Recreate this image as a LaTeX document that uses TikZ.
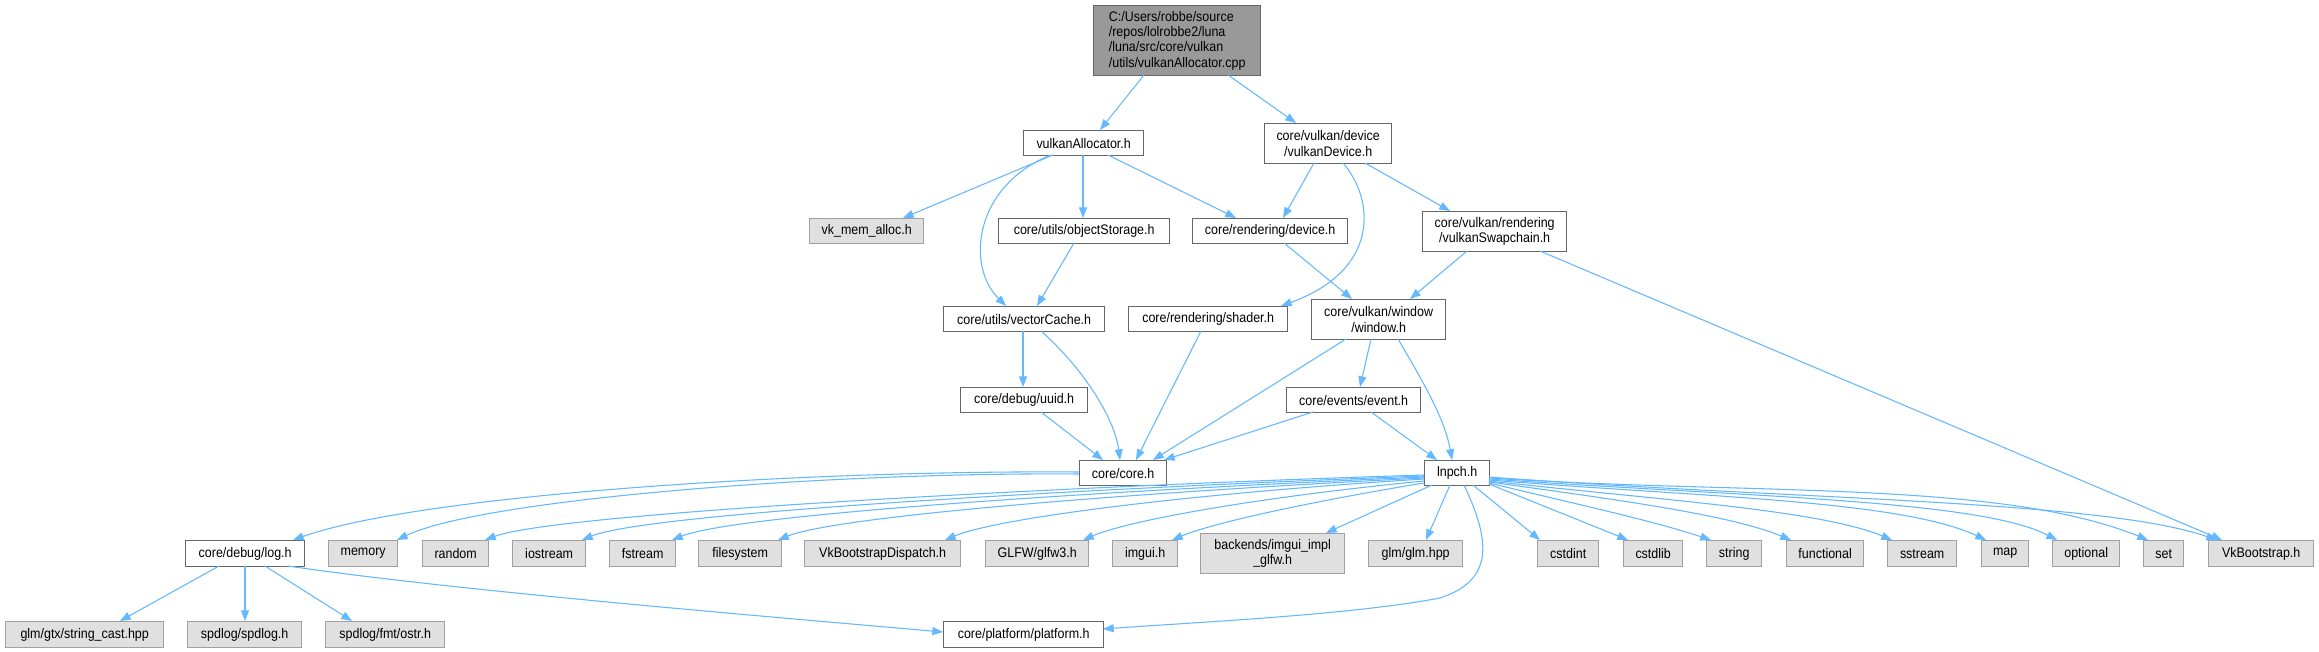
\documentclass[tikz,border=0pt]{standalone}
\usepackage{fontspec}
\setmainfont{Liberation Sans}[FakeStretch=0.9]
\usetikzlibrary{arrows.meta,calc}
\definecolor{edgec}{HTML}{63B8FF}
\definecolor{localb}{HTML}{666666}
\definecolor{extb}{HTML}{A0A0A0}
\definecolor{extf}{HTML}{E0E0E0}
\definecolor{rootf}{HTML}{999999}
\begin{document}
\begin{tikzpicture}[x=0.75pt,y=-0.75pt,
  every node/.style={font=\fontsize{10.4}{11.5}\selectfont, inner sep=0pt, anchor=north west, align=center},
  wh/.style 2 args={minimum width={#1*0.75pt},minimum height={#2*0.75pt}},
  local/.style={draw=localb, fill=white, line width=1pt},
  ext/.style={draw=extb, fill=extf, line width=1pt},
  rootn/.style={draw=localb, fill=rootf, line width=1pt, align=left},
  dep/.style={draw=edgec, line width=0.8pt, -{Triangle[length=8pt,width=6pt]}}]
\useasboundingbox (0,0) rectangle (2319,652);
\fill[white] (0,0) rectangle (2319,652);
% nodes
\node[rootn, wh={167}{70}] (root) at (1093,5) {C:/Users/robbe/source\\/repos/lolrobbe2/luna\\/luna/src/core/vulkan\\/utils/vulkanAllocator.cpp};
\node[local, wh={120}{25}] (va) at (1023,130) {vulkanAllocator.h};
\node[local, wh={127}{40}] (vd) at (1264,123) {core/vulkan/device\\/vulkanDevice.h};
\node[ext, wh={114}{25}] (vma) at (809,218) {vk\_mem\_alloc.h};
\node[local, wh={171}{25}] (os) at (998,218) {core/utils/objectStorage.h};
\node[local, wh={155}{25}] (rd) at (1192,218) {core/rendering/device.h};
\node[local, wh={144}{40}] (sc) at (1422,211) {core/vulkan/rendering\\/vulkanSwapchain.h};
\node[local, wh={161}{25}] (vc) at (943,306) {core/utils/vectorCache.h};
\node[local, wh={159}{25}] (sh) at (1128,306) {core/rendering/shader.h};
\node[local, wh={134}{40}] (win) at (1311,299) {core/vulkan/window\\/window.h};
\node[local, wh={127}{25}] (uuid) at (960,387) {core/debug/uuid.h};
\node[local, wh={134}{25}] (ev) at (1286,387) {core/events/event.h};
\node[local, wh={87}{25}] (core) at (1079,460) {core/core.h};
\node[local, wh={65}{25}] (lnpch) at (1424,460) {lnpch.h};
\node[local, wh={119}{26}] (log) at (185,540) {core/debug/log.h};
\node[ext, wh={69}{26}] (memory) at (328,540) {memory};
\node[ext, wh={66}{26}] (random) at (422,540) {random};
\node[ext, wh={73}{26}] (iostream) at (512,540) {iostream};
\node[ext, wh={66}{26}] (fstream) at (609,540) {fstream};
\node[ext, wh={83}{26}] (filesystem) at (698,540) {filesystem};
\node[ext, wh={156}{26}] (vbd) at (804,540) {VkBootstrapDispatch.h};
\node[ext, wh={103}{26}] (glfw) at (985,540) {GLFW/glfw3.h};
\node[ext, wh={65}{26}] (imgui) at (1112,540) {imgui.h};
\node[ext, wh={144}{40}] (backends) at (1200,533) {backends/imgui\_impl\\\_glfw.h};
\node[ext, wh={94}{26}] (glm) at (1368,540) {glm/glm.hpp};
\node[ext, wh={61}{26}] (cstdint) at (1537,540) {cstdint};
\node[ext, wh={59}{26}] (cstdlib) at (1623,540) {cstdlib};
\node[ext, wh={55}{26}] (string) at (1706,540) {string};
\node[ext, wh={77}{26}] (functional) at (1786,540) {functional};
\node[ext, wh={69}{26}] (sstream) at (1887,540) {sstream};
\node[ext, wh={47}{26}] (map) at (1981,540) {map};
\node[ext, wh={67}{26}] (optional) at (2052,540) {optional};
\node[ext, wh={40}{26}] (set) at (2143,540) {set};
\node[ext, wh={105}{26}] (vkb) at (2208,540) {VkBootstrap.h};
\node[ext, wh={158}{26}] (strcast) at (5,621) {glm/gtx/string\_cast.hpp};
\node[ext, wh={114}{26}] (spdlog) at (187,621) {spdlog/spdlog.h};
\node[ext, wh={119}{26}] (ostr) at (325,621) {spdlog/fmt/ostr.h};
\node[local, wh={160}{26}] (platform) at (943,621) {core/platform/platform.h};
% edges
\draw[dep] ($(root.north west)+(51,70)$) -- ($(va.north west)+(77,0)$);
\draw[dep] ($(root.north west)+(135,70)$) -- ($(vd.north west)+(32,0)$);
\draw[dep] ($(va.north west)+(30,25)$) -- ($(vma.north west)+(94,0)$);
\draw[dep] ($(va.north west)+(28,25)$) .. controls (975,185) and (965,265) .. ($(vc.north west)+(63,0)$);
\draw[dep] ($(va.north west)+(60,25)$) -- ($(os.north west)+(85,0)$);
\draw[dep] ($(va.north west)+(85,25)$) -- ($(rd.north west)+(44,0)$);
\draw[dep] ($(vd.north west)+(50,40)$) -- ($(rd.north west)+(91,0)$);
\draw[dep] ($(vd.north west)+(79,40)$) .. controls (1375,200) and (1380,270) .. ($(sh.north west)+(153,0)$);
\draw[dep] ($(vd.north west)+(101,40)$) -- ($(sc.north west)+(28,0)$);
\draw[dep] ($(os.north west)+(76,25)$) -- ($(vc.north west)+(94,0)$);
\draw[dep] ($(rd.north west)+(92,25)$) -- ($(win.north west)+(41,0)$);
\draw[dep] ($(sc.north west)+(45,40)$) -- ($(win.north west)+(99,0)$);
\draw[dep] ($(sc.north west)+(118,40)$) -- ($(vkb.north west)+(14,0)$);
\draw[dep] ($(vc.north west)+(80,25)$) -- ($(uuid.north west)+(63,0)$);
\draw[dep] ($(vc.north west)+(98,25)$) .. controls (1085,370) and (1115,420) .. ($(core.north west)+(41,0)$);
\draw[dep] ($(sh.north west)+(73,25)$) -- ($(core.north west)+(57,0)$);
\draw[dep] ($(win.north west)+(35,40)$) -- ($(core.north west)+(74,0)$);
\draw[dep] ($(win.north west)+(60,40)$) -- ($(ev.north west)+(74,0)$);
\draw[dep] ($(win.north west)+(87,40)$) .. controls (1425,385) and (1445,420) .. ($(lnpch.north west)+(28,0)$);
\draw[dep] ($(uuid.north west)+(81,25)$) -- ($(core.north west)+(24,0)$);
\draw[dep] ($(ev.north west)+(27,25)$) -- ($(core.north west)+(85,0)$);
\draw[dep] ($(ev.north west)+(85,25)$) -- ($(lnpch.north west)+(13,0)$);
\draw[dep] ($(core.north west)+(0,12)$) .. controls (800,470) and (420,495) .. ($(log.north west)+(108,0)$);
\draw[dep] ($(core.north west)+(0,14)$) .. controls (820,472) and (480,500) .. ($(memory.north west)+(69,0)$);
% lnpch, to the left
\draw[dep] ($(lnpch.north west)+(0,15)$) .. controls (1100,485) and (560,512) .. ($(random.north west)+(63,0)$);
\draw[dep] ($(lnpch.north west)+(0,16)$) .. controls (1120,487) and (650,512) .. ($(iostream.north west)+(70,0)$);
\draw[dep] ($(lnpch.north west)+(0,17)$) .. controls (1140,489) and (740,513) .. ($(fstream.north west)+(63,0)$);
\draw[dep] ($(lnpch.north west)+(0,18)$) .. controls (1160,491) and (840,515) .. ($(filesystem.north west)+(80,0)$);
\draw[dep] ($(lnpch.north west)+(0,19)$) .. controls (1200,493) and (1000,517) .. ($(vbd.north west)+(141,0)$);
\draw[dep] ($(lnpch.north west)+(0,21)$) .. controls (1260,497) and (1130,520) .. ($(glfw.north west)+(98,0)$);
\draw[dep] ($(lnpch.north west)+(0,23)$) .. controls (1320,500) and (1215,522) .. ($(imgui.north west)+(60,0)$);
\draw[dep] ($(lnpch.north west)+(8,25)$) -- ($(backends.north west)+(126,0)$);
\draw[dep] ($(lnpch.north west)+(26,25)$) -- ($(glm.north west)+(58,0)$);
\draw[dep] ($(lnpch.north west)+(40,25)$) .. controls (1490,540) and (1495,580) .. (1440,598) .. controls (1350,615) and (1200,622) .. ($(platform.north west)+(160,8)$);
% lnpch, to the right
\draw[dep] ($(lnpch.north west)+(49,25)$) -- ($(cstdint.north west)+(3,0)$);
\draw[dep] ($(lnpch.north west)+(65,24)$) -- ($(cstdlib.north west)+(5,0)$);
\draw[dep] ($(lnpch.north west)+(65,23)$) .. controls (1580,505) and (1650,520) .. ($(string.north west)+(5,0)$);
\draw[dep] ($(lnpch.north west)+(65,22)$) .. controls (1620,500) and (1730,515) .. ($(functional.north west)+(5,0)$);
\draw[dep] ($(lnpch.north west)+(65,21)$) .. controls (1660,500) and (1820,510) .. ($(sstream.north west)+(5,0)$);
\draw[dep] ($(lnpch.north west)+(65,20)$) .. controls (1700,497) and (1900,500) .. ($(map.north west)+(5,0)$);
\draw[dep] ($(lnpch.north west)+(65,19)$) .. controls (1750,497) and (1980,500) .. ($(optional.north west)+(5,0)$);
\draw[dep] ($(lnpch.north west)+(65,18)$) .. controls (1750,495) and (2000,480) .. ($(set.north west)+(5,0)$);
\draw[dep] ($(lnpch.north west)+(65,17)$) .. controls (1800,500) and (2100,500) .. ($(vkb.north west)+(9,0)$);
% log.h
\draw[dep] ($(log.north west)+(34,26)$) -- ($(strcast.north west)+(115,0)$);
\draw[dep] ($(log.north west)+(60,26)$) -- ($(spdlog.north west)+(58,0)$);
\draw[dep] ($(log.north west)+(80,26)$) -- ($(ostr.north west)+(27,0)$);
\draw[dep] ($(log.north west)+(103,26)$) .. controls (450,590) and (750,615) .. ($(platform.north west)+(0,11)$);
\end{tikzpicture}
\end{document}
